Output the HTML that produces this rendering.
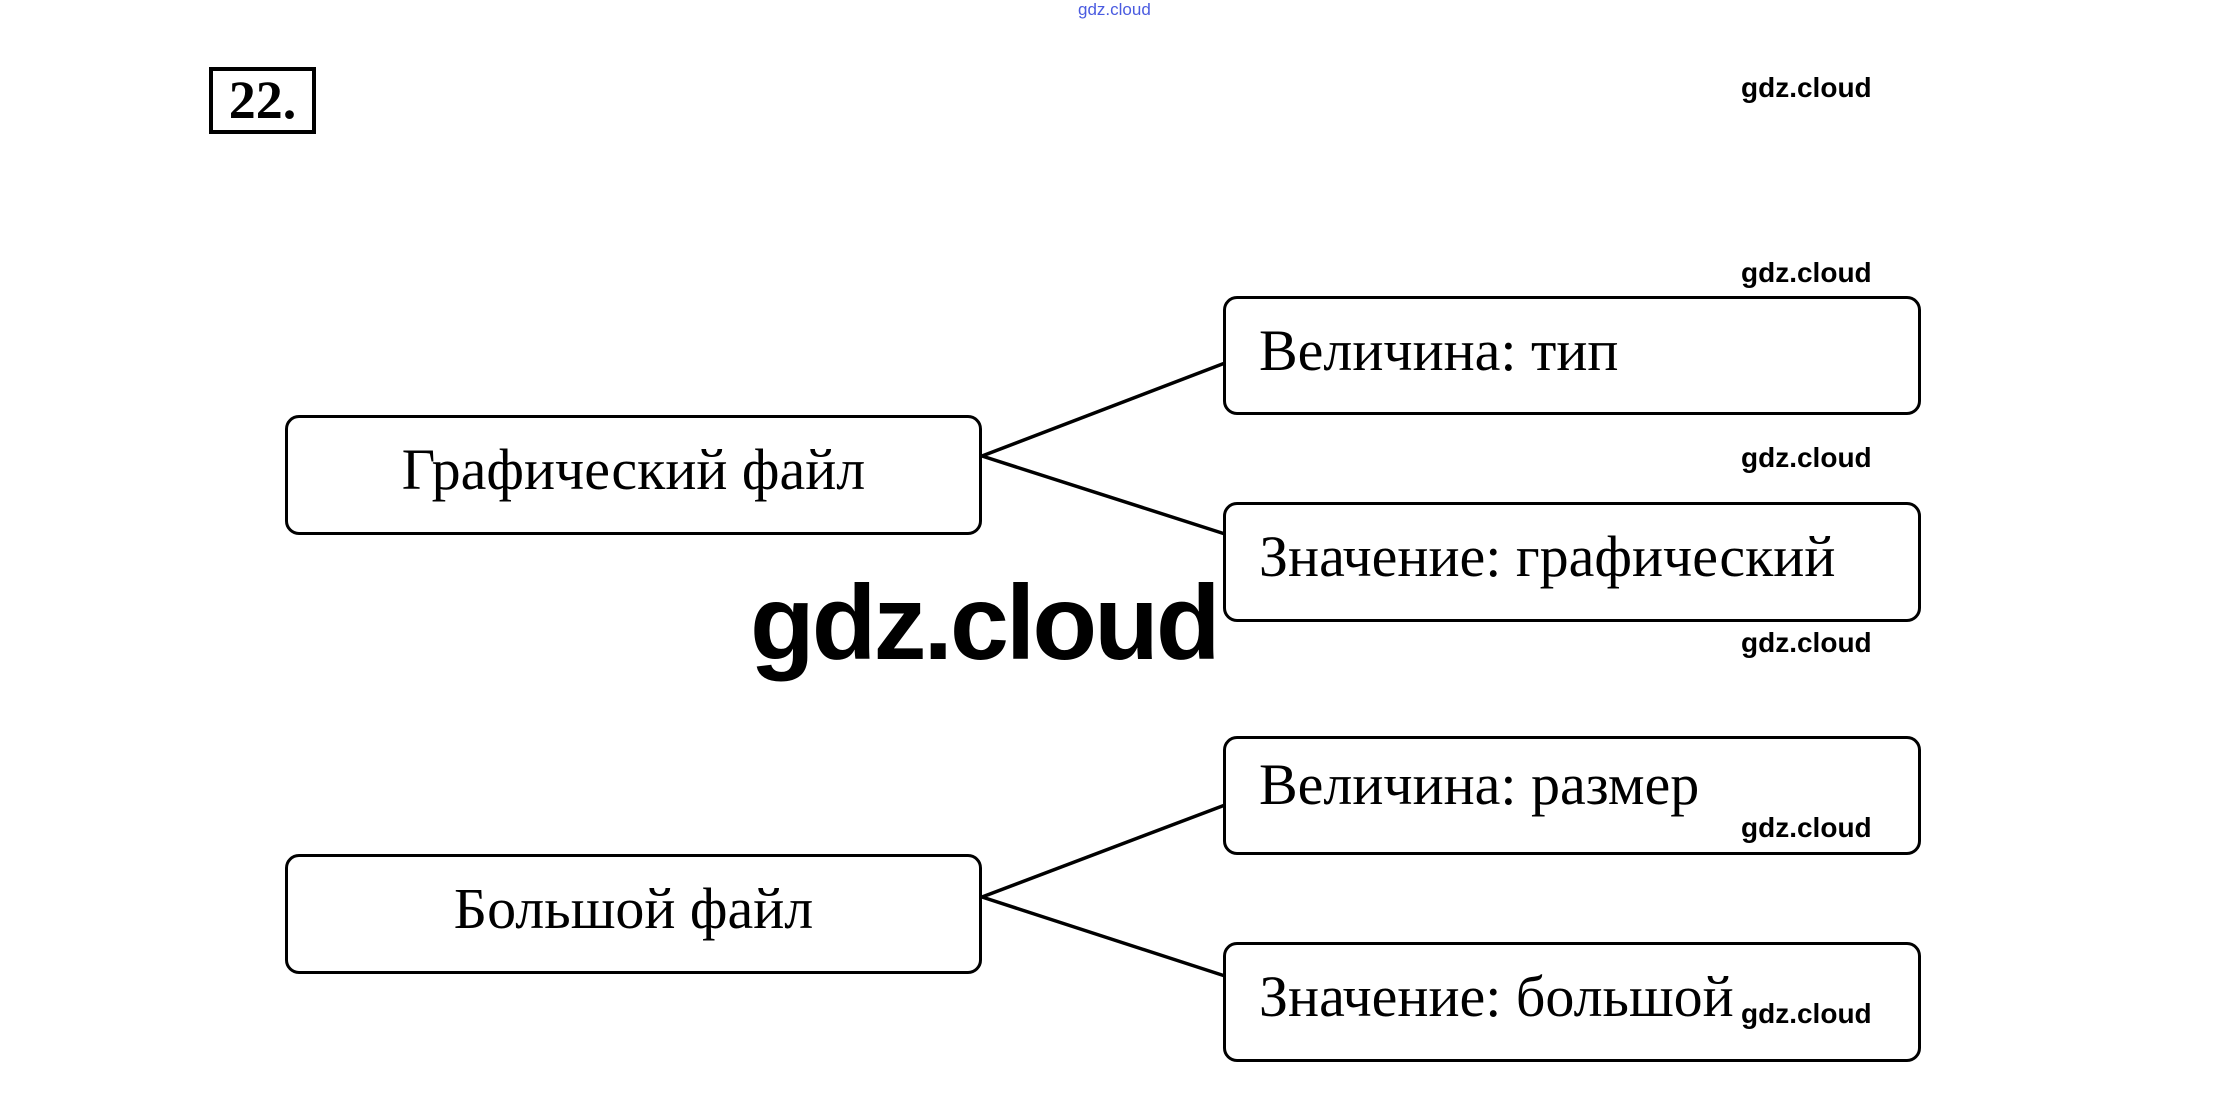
<!DOCTYPE html>
<html><head><meta charset="utf-8"><style>
body{margin:0;width:2222px;height:1093px;background:#fff;position:relative;overflow:hidden}
.b{position:absolute;border:3px solid #000;border-radius:14px;box-sizing:border-box;font-family:"Liberation Serif",serif;font-size:58px;line-height:1;display:flex;align-items:center;white-space:nowrap}
.l{justify-content:center}
.r{padding-left:33px}
.w{position:absolute;font-family:"Liberation Sans",sans-serif;font-weight:bold;font-size:28px;color:#000;left:1741px}
</style></head><body>
<div style="position:absolute;left:1078px;top:0;font-family:'Liberation Sans',sans-serif;font-size:17px;color:#4a5be0">gdz.cloud</div>
<div style="position:absolute;left:209px;top:67px;width:107px;height:67px;border:4px solid #000;box-sizing:border-box;font-family:'Liberation Serif',serif;font-weight:bold;font-size:54px;line-height:59px;text-align:center">22.</div>
<div class="w" style="top:72px">gdz.cloud</div>
<div class="w" style="top:257px">gdz.cloud</div>
<div class="w" style="top:442px">gdz.cloud</div>
<div class="w" style="top:627px">gdz.cloud</div>
<div class="w" style="top:812px">gdz.cloud</div>
<div class="w" style="top:998px">gdz.cloud</div>
<svg style="position:absolute;left:0;top:0" width="2222" height="1093">
<g stroke="#000" stroke-width="3.5">
<line x1="982" y1="456" x2="1225" y2="363"/><line x1="982" y1="456" x2="1225" y2="534"/>
<line x1="982" y1="897" x2="1225" y2="805"/><line x1="982" y1="897" x2="1225" y2="976"/>
</g></svg>
<div class="b l" style="left:285px;top:415px;width:697px;height:120px;padding-bottom:10px">Графический файл</div>
<div class="b r" style="left:1223px;top:296px;width:698px;height:119px;padding-bottom:10px">Величина: тип</div>
<div class="b r" style="left:1223px;top:502px;width:698px;height:120px;padding-bottom:10px">Значение: графический</div>
<div class="b l" style="left:285px;top:854px;width:697px;height:120px;padding-bottom:10px">Большой файл</div>
<div class="b r" style="left:1223px;top:736px;width:698px;height:119px;padding-bottom:22px">Величина: размер</div>
<div class="b r" style="left:1223px;top:942px;width:698px;height:120px;padding-bottom:10px">Значение: большой</div>
<div style="position:absolute;left:750px;top:570px;font-family:'Liberation Sans',sans-serif;font-weight:bold;font-size:106px;letter-spacing:-3px;line-height:1">gdz.cloud</div>
</body></html>
